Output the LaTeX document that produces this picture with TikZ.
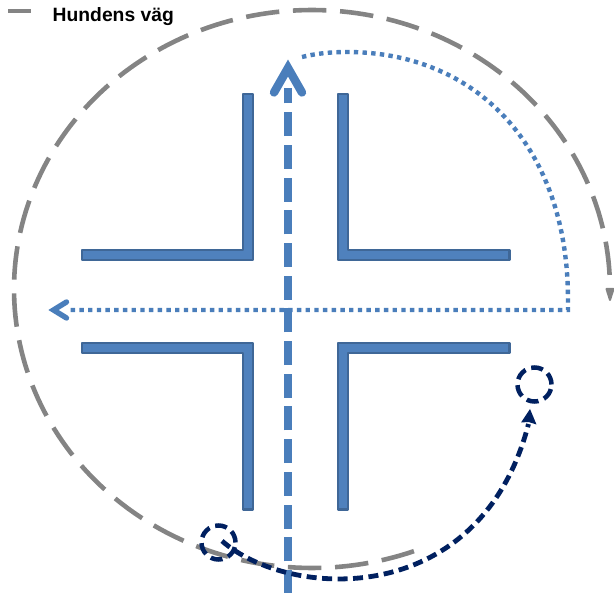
\documentclass[tikz,border=0pt]{standalone}
\usepackage{fontspec}
\setmainfont{Liberation Sans}
\definecolor{wallfill}{HTML}{4F81BD}
\definecolor{wallline}{HTML}{3F6797}
\definecolor{pathblue}{HTML}{4A7EBB}
\definecolor{doggray}{HTML}{848484}
\definecolor{navyline}{HTML}{002060}
\tikzset{
  wall/.style={fill=wallfill,draw=wallline,line width=2.2pt,line join=round},
  dogpath/.style={draw=doggray,line width=4.6pt,dash pattern=on 33.5pt off 13.7pt},
  doghead/.style={draw=doggray,line width=2pt,line join=round,fill=doggray},
  mainshaft/.style={draw=pathblue,line width=8.4pt,dash pattern=on 24pt off 8.7pt},
  mainhead/.style={draw=pathblue,line width=8.4pt,line cap=round,line join=miter},
  dotline/.style={draw=pathblue,line width=4.4pt,dash pattern=on 4.4pt off 4.3pt},
  dothead/.style={draw=pathblue,line width=5.4pt,line cap=round,line join=miter},
  navydash/.style={draw=navyline,line width=4.8pt,dash pattern=on 10pt off 5.5pt},
  navyhead/.style={fill=navyline,draw=none},
  ring/.style={circle,draw=navyline,line width=4.5pt,dash pattern=on 12pt off 6pt,minimum size=34pt,inner sep=0pt},
  legend/.style={anchor=base west,font=\fontsize{19.3}{22}\selectfont\bfseries,inner sep=0pt,text=black}
}
\begin{document}
\begin{tikzpicture}[x=1pt,y=-1pt]
\useasboundingbox (0,0) rectangle (614,593);
% walls
\draw[wall] (243,94) -- (253,94) -- (253,260) -- (82,260) -- (82,250) -- (243,250) -- cycle;
\draw[wall] (338,94) -- (348,94) -- (348,250) -- (509.5,250) -- (509.5,260) -- (338,260) -- cycle;
\draw[wall] (82,343) -- (253,343) -- (253,509.5) -- (243,509.5) -- (243,353) -- (82,353) -- cycle;
\draw[wall] (338,343) -- (509.5,343) -- (509.5,353) -- (348,353) -- (348,509.5) -- (338,509.5) -- cycle;
% legend
\coordinate (legA) at (8,11);
\coordinate (legB) at (31,11);
\draw[doggray,line width=4.6pt] (legA) -- (legB);
\node[legend] (legtext) at (52.5,21.7) {Hundens väg};
% main shaft
\coordinate (shaftbot) at (288,594);
\coordinate (shafttop) at (288,88);
\coordinate (maintip) at (288,68);
\draw[mainshaft] (shaftbot) -- (shafttop);
\draw[mainhead] (274,92.5) -- (maintip) -- (302,92.5);
% dog's path
\draw[dogpath] plot[domain=70:358.5,samples=200] ({312+298*cos(\x)},{289+279*sin(\x)});
\coordinate (dogtip) at (610,300);
\draw[doghead] (606.5,289) -- (dogtip) -- (613.5,289) -- cycle;
% dotted route
\coordinate (dotstart) at (302,57);
\coordinate (dotcorner) at (568,310);
\coordinate (dotend) at (69,310);
\coordinate (dottip) at (53.5,310);
\draw[dotline] (dotstart) .. controls (316,53.5) and (331,52) .. (347,52) .. controls (475,52) and (568,145) .. (568,300) -- (dotcorner) -- (dotend);
\draw[dothead] (66.5,302) -- (dottip) -- (66.5,318);
% rings
\node[ring] (ringA) at (218.5,542.5) {};
\node[ring] (ringB) at (534.5,384.5) {};
% navy arc
\coordinate (navystart) at (222,541);
\coordinate (navyend) at (528.5,424);
\draw[navydash] (navystart) .. controls (290,600) and (480,610) .. (navyend);
\fill[navyhead] (530,409) -- (536.5,424.5) -- (528.5,422) -- (521,422.5) -- cycle;
\end{tikzpicture}
\end{document}
